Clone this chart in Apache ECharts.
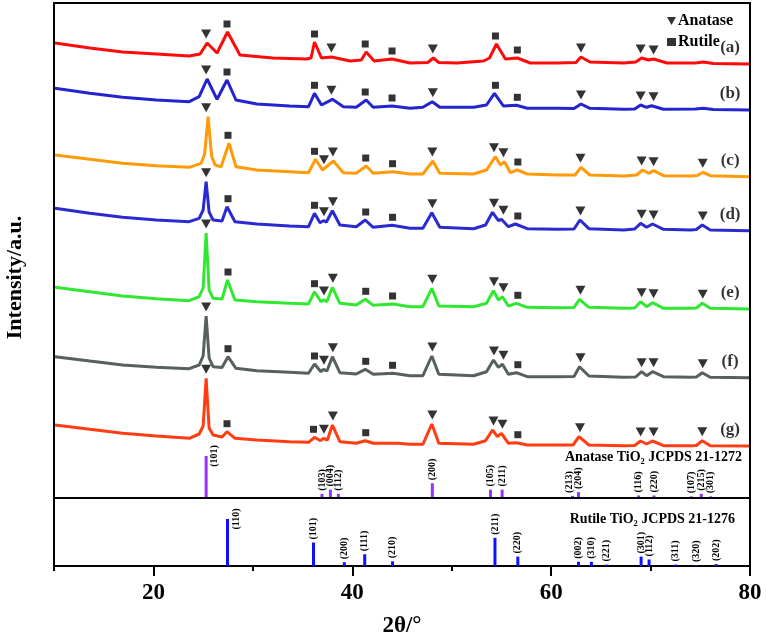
<!DOCTYPE html>
<html><head><meta charset="utf-8">
<script src="https://cdn.jsdelivr.net/npm/echarts@6/dist/echarts.min.js"></script>
<style>html,body{margin:0;padding:0;background:#fff}#c{width:767px;height:639px}</style>
</head><body><div id="c"></div>
<script>
// ---- XRD patterns (2θ in degrees, stacked intensity in a.u.) ----
const curveA = [[10.1,523],[13.6,518],[16.9,514],[20.3,512],[23.6,510],[24.7,512],[25.4,523],[26.4,513],[27.45,534],[28.7,511],[32.0,508],[35.4,507],[35.85,508],[36.2,524],[36.9,508],[37.9,509],[39.8,505],[40.9,506],[41.4,514],[42.2,505],[44.0,507],[45.8,503],[47.6,503.5],[48.15,508],[48.7,503.5],[50.5,503],[53.2,505],[53.8,508],[54.5,522],[55.4,507],[56.6,508],[57.9,503],[60.6,503],[62.5,503.5],[63.0,509],[63.9,504],[67.3,503],[68.5,504],[69.1,508],[69.8,506],[70.3,507],[71.65,503],[74.5,503],[75.3,504],[76.3,502.5],[79.9,502]];
const curveB = [[10.1,477.7],[13.6,472.7],[16.9,468.7],[20.3,466],[23.6,464.3],[24.6,469.3],[25.4,487],[26.4,466.7],[27.4,486],[28.3,466],[30.4,462],[33.7,460],[35.6,459.3],[36.2,472.7],[36.9,461],[38.0,466.7],[39.1,459.3],[40.4,458.7],[41.4,466],[42.1,458.7],[44.0,460],[45.8,457.7],[47.1,458.7],[48.05,464.3],[48.8,458.7],[52.2,458.7],[53.5,461],[54.3,472.7],[55.2,460],[56.5,460.7],[57.6,457.7],[60.6,457.7],[62.3,457.5],[63.0,462],[63.9,457.7],[67.3,456.7],[68.4,457],[69.0,461],[69.6,458.7],[70.1,460.3],[71.3,456.7],[74.5,457],[75.3,457.7],[76.3,456.5],[79.9,456]];
const curveC = [[10.1,411],[13.6,406.7],[16.9,402.7],[20.3,400.3],[23.6,398.7],[24.8,402.7],[25.15,412],[25.5,449.3],[25.85,410],[26.2,401],[26.8,399.3],[27.6,422.7],[28.3,399.3],[30.4,396],[33.7,394.3],[35.6,393.3],[36.3,406.7],[37.0,396],[38.1,405],[39.1,393.3],[40.4,392.7],[41.4,400],[42.1,392.7],[44.1,394.3],[45.8,392],[47.1,392],[48.1,405],[48.8,392.7],[52.2,392],[53.5,396],[54.4,409.3],[54.9,401],[55.3,404.3],[55.9,393.3],[56.6,396],[57.6,392],[60.6,391],[62.4,391],[63.0,398.7],[63.9,391],[67.3,390],[68.6,391],[69.2,396],[69.8,392.7],[70.3,395.3],[71.3,390.3],[74.0,390],[74.7,390.5],[75.3,393.7],[76.0,390.3],[79.9,389.3]];
const curveD = [[10.1,357.7],[13.6,352.7],[16.9,348.7],[20.3,346],[23.6,344.3],[24.6,347.7],[25.0,356],[25.3,384.3],[25.6,354],[26.0,346],[26.9,345],[27.4,359.3],[28.2,344.3],[30.4,342],[33.7,340],[35.6,339.3],[36.2,352.7],[36.75,343.3],[37.1,345.3],[37.4,344],[38.0,355.3],[38.75,341],[40.4,339.3],[41.3,346],[42.1,338.7],[44.0,340.7],[45.8,337.7],[47.1,337.7],[48.0,353.3],[48.8,338.7],[52.2,337.3],[53.4,341],[54.1,353.7],[54.7,345.3],[55.0,346.7],[55.7,339.3],[56.4,342],[57.6,337.3],[60.6,336.7],[62.3,337],[62.9,346],[63.8,337.3],[67.3,336],[68.4,337],[69.0,342.7],[69.6,338.7],[70.2,342],[71.3,336.7],[74.0,336],[74.6,336.5],[75.2,341],[76.0,336],[79.9,335.3]];
const curveE = [[10.1,278.7],[13.6,274.3],[16.9,270],[20.3,267.3],[23.6,265.3],[24.6,269.3],[25.0,278],[25.3,333],[25.6,276],[26.0,267.7],[26.9,267],[27.45,286],[28.2,266],[30.4,264.3],[33.7,262.7],[35.6,262],[36.2,274.3],[36.85,264.3],[37.1,266],[37.45,264.5],[38.0,278.7],[38.75,262.7],[40.4,261],[41.3,266.7],[42.1,260.7],[44.1,262],[45.8,259.3],[47.1,259.3],[48.0,277.7],[48.7,260],[52.2,259.3],[53.5,262.7],[54.2,275.3],[54.7,266],[55.1,269.3],[55.7,260],[56.5,262.7],[57.6,258.7],[60.6,258.3],[62.3,258.5],[62.85,266.7],[63.8,258.7],[67.3,257.7],[68.4,258],[69.0,264.3],[69.6,259.3],[70.2,263.3],[71.3,257.7],[74.0,257.7],[74.6,258],[75.2,262.7],[76.0,257.7],[79.9,257]];
const curveF = [[10.1,209.3],[13.6,205],[16.9,201],[20.3,198.7],[23.6,197.3],[24.6,201],[25.0,210],[25.3,250],[25.6,208],[26.0,199.3],[26.9,198.5],[27.5,209.3],[28.3,197.7],[30.4,195.3],[33.7,193.7],[35.6,192.7],[36.2,202],[36.85,194.3],[37.1,196.7],[37.45,195],[38.0,209.3],[38.75,193.3],[40.4,192],[41.3,196.7],[42.1,191.7],[44.1,192.7],[45.8,190.3],[47.1,190.3],[48.0,210],[48.7,191.7],[52.2,190.3],[53.5,194.3],[54.2,206],[54.7,198.7],[55.1,201.7],[55.7,191.7],[56.5,193.3],[57.6,189.3],[60.6,189.3],[62.3,189.5],[62.85,199.3],[63.8,190],[67.3,188.7],[68.5,189],[69.1,194.3],[69.6,190.3],[70.2,194.3],[71.3,189.3],[74.0,188.7],[74.6,189],[75.2,193.3],[76.0,188.7],[79.9,188.3]];
const curveG = [[10.1,141],[13.6,136.7],[16.9,132.7],[20.3,130],[23.6,127.7],[24.6,132],[25.0,140],[25.3,187.7],[25.6,138],[26.0,131],[26.9,129],[27.4,134.3],[28.2,127.7],[30.4,126],[33.7,124.3],[35.6,123.7],[36.2,128.7],[36.8,125.3],[37.1,127.7],[37.5,126],[38.0,141],[38.75,124.3],[40.4,122.7],[41.3,125.3],[42.1,122.7],[44.6,122.7],[45.8,121.7],[47.1,121.7],[48.0,142],[48.7,122.7],[52.2,121.7],[53.4,125.3],[54.1,136],[54.6,129.3],[55.0,132.7],[55.7,122.7],[56.5,123.3],[57.6,121],[60.6,121],[62.2,121],[62.8,129.3],[63.8,121],[67.3,120.3],[68.4,120.5],[69.0,125],[69.6,122],[70.2,125],[71.3,120.3],[74.0,120.3],[74.6,120.5],[75.2,125.3],[76.0,120.3],[79.9,120]];
const curveNames = ['(a)','(b)','(c)','(d)','(e)','(f)','(g)'];

// phase markers (2θ positions) per curve
const anataseMarksAB = [25.3, 37.9, 48.1, 63.0, 69.0, 70.3];
const rutileMarksAB  = [27.4, 36.2, 41.3, 44.0, 54.4, 56.6];
const anataseMarksCF = [25.3, 37.15, 38.05, 48.05, 54.25, 55.2, 62.95, 69.1, 70.3, 75.25];
const rutileMarksCF  = [27.5, 36.2, 41.35, 44.05, 56.65];
const anataseMarksG  = [25.3, 37.15, 38.05, 48.05, 54.2, 55.1, 62.9, 69.0, 70.3, 75.2];
const rutileMarksG   = [27.4, 36.1, 41.35, 56.65];

// reference cards
const anataseRefPos = [25.3, 36.95, 37.8, 38.6, 48.05, 53.9, 55.07, 62.15, 62.75, 68.8, 70.35, 74.1, 75.1, 76.05];
const anataseRefInt = [100, 10, 20, 10, 35, 20, 20, 5, 14, 6, 6, 4, 10, 4];
const anataseRefHkl = ['(101)','(103)','(004)','(112)','(200)','(105)','(211)','(213)','(204)','(116)','(220)','(107)','(215)','(301)'];
const rutileRefPos = [27.45, 36.1, 39.2, 41.25, 44.05, 54.35, 56.65, 62.75, 64.05, 65.6, 69.05, 69.85, 72.5, 74.6, 76.6];
const rutileRefInt = [100, 50, 8, 25, 10, 60, 20, 9, 9, 3, 20, 14, 3, 2, 4];
const rutileRefHkl = ['(110)','(101)','(200)','(111)','(210)','(211)','(220)','(002)','(310)','(221)','(301)','(112)','(311)','(320)','(202)'];
const xTickLabels = [20, 40, 60, 80];

// ---- styling / layout ----
const curves = [curveA, curveB, curveC, curveD, curveE, curveF, curveG];
const curveColors = ['#ff0a0a', '#2323cf', '#ff9a0a', '#2a2ad0', '#30e830', '#56605e', '#ff3c12'];
const anataseBase = 68, anataseScale = 0.42, rutileBase = 0, rutileScale = 0.47;
const SERIF = '"Liberation Serif", "Times New Roman", serif';
const labelDx = {'(213)': -3.5};

function valueAt(c, x) {
  for (let i = 0; i < c.length - 1; i++) {
    if (x >= c[i][0] && x <= c[i+1][0]) {
      const t = (x - c[i][0]) / (c[i+1][0] - c[i][0]);
      return c[i][1] + t * (c[i+1][1] - c[i][1]);
    }
  }
  return c[c.length-1][1];
}
function peakTop(c, x) {
  let m = valueAt(c, x);
  c.forEach(p => { if (Math.abs(p[0] - x) <= 0.3 && p[1] > m) m = p[1]; });
  return m;
}
const anaSets = [anataseMarksAB, anataseMarksAB, anataseMarksCF, anataseMarksCF, anataseMarksCF, anataseMarksCF, anataseMarksG];
const rutSets = [rutileMarksAB, rutileMarksAB, rutileMarksCF, rutileMarksCF, rutileMarksCF, rutileMarksCF, rutileMarksG];
const anaPts = [], rutPts = [];
curves.forEach((c, i) => {
  anaSets[i].forEach(x => anaPts.push([x, peakTop(c, x) + 9]));
  rutSets[i].forEach(x => rutPts.push([x, peakTop(c, x) + 8]));
});

function refSeries(name, pos, inten, hkl, base, scale, color) {
  return {
    type: 'custom', name, silent: true, clip: false, z: 3,
    data: pos.map((p, i) => [p, base + inten[i] * scale]),
    encode: {x: 0, y: 1},
    renderItem(params, api) {
      const x = api.value(0);
      const p0 = api.coord([x, base]);
      const p1 = api.coord([x, api.value(1)]);
      const idx = params.dataIndex;
      const big = inten[idx] >= 100;
      const lab = hkl[idx];
      return {type: 'group', children: [
        {type: 'line', shape: {x1: p0[0], y1: p0[1], x2: p1[0], y2: p1[1]}, style: {stroke: color, lineWidth: 3}},
        {type: 'text', x: big ? p1[0] + 8.5 : p1[0] + (labelDx[lab] || 0), y: big ? p1[1] : p1[1] - 3, rotation: Math.PI / 2,
          style: {text: lab, textAlign: big ? 'center' : 'left', textVerticalAlign: 'middle', fontSize: 10, fontWeight: 'bold', fontFamily: SERIF, fill: '#000'}}
      ]};
    }
  };
}

const chart = echarts.init(document.getElementById('c'), null, {renderer: 'canvas'});
const series = [];
curves.forEach((c, i) => series.push({
  type: 'line', name: curveNames[i], data: c, showSymbol: false, symbol: 'none', silent: true,
  lineStyle: {color: curveColors[i], width: 3}, z: 2
}));
const anaRef = refSeries('Anatase ref', anataseRefPos, anataseRefInt, anataseRefHkl, anataseBase, anataseScale, '#9b30ff');
anaRef.markLine = {silent: true, symbol: 'none', label: {show: false}, lineStyle: {color: '#000', width: 2, type: 'solid'}, data: [{yAxis: anataseBase}]};
series.push(anaRef);
series.push(refSeries('Rutile ref', rutileRefPos, rutileRefInt, rutileRefHkl, rutileBase, rutileScale, '#1010ff'));
series.push({type: 'scatter', name: 'Anatase', data: anaPts, symbol: 'path://M0,0L10,0L5,9Z', symbolSize: [10, 9], itemStyle: {color: '#000'}, z: 5, silent: true});
series.push({type: 'scatter', name: 'Rutile', data: rutPts, symbol: 'rect', symbolSize: 7, itemStyle: {color: '#000'}, z: 5, silent: true});
series.push({type: 'scatter', name: 'labels', symbolSize: 0, silent: true, z: 6,
  data: curves.map((c, i) => ({name: curveNames[i], value: [78.0, c[c.length-1][1] + 16]})),
  label: {show: true, position: 'inside', formatter: '{b}', color: '#000', fontSize: 17, fontWeight: 'bold', fontFamily: SERIF}});

chart.setOption({
  animation: false,
  backgroundColor: '#fff',
  grid: {left: 54, right: 17, top: 3, bottom: 73, show: true, borderColor: '#000', borderWidth: 2, containLabel: false, outerBoundsMode: 'none'},
  legend: {
    data: [{name: 'Anatase', icon: 'path://M0,0L10,0L5,9Z'}, {name: 'Rutile', icon: 'rect'}],
    orient: 'vertical', left: 662, top: 8, itemWidth: 9, itemHeight: 8, itemGap: 5,
    textStyle: {fontSize: 16, fontWeight: 'bold', fontFamily: SERIF, color: '#000', padding: [0, 0, 0, -3]},
    selectedMode: false
  },
  xAxis: [{
    type: 'value', min: 10, max: 80, interval: 10,
    name: '2θ/°', nameLocation: 'middle', nameGap: 49,
    nameTextStyle: {fontSize: 23, fontWeight: 'bold', fontFamily: SERIF, color: '#000'},
    axisLine: {show: true, lineStyle: {color: '#000', width: 2}},
    axisTick: {show: true, length: 5, lineStyle: {color: '#000', width: 2}},
    axisLabel: {show: true, customValues: xTickLabels, margin: 16, fontSize: 23, fontWeight: 'bold', fontFamily: SERIF, color: '#000'},
    splitLine: {show: false}
  }, {
    type: 'value', min: 10, max: 80, interval: 10, position: 'bottom',
    axisLine: {show: false},
    axisTick: {show: true, customValues: xTickLabels, length: 10, lineStyle: {color: '#000', width: 2}},
    axisLabel: {show: false}, splitLine: {show: false}
  }],
  yAxis: {
    type: 'value', min: 0, max: 563,
    name: 'Intensity/a.u.', nameLocation: 'middle', nameRotate: 90, nameGap: 28,
    nameTextStyle: {fontSize: 22, fontWeight: 'bold', fontFamily: SERIF, color: '#000', padding: [0, 0, 0, 14]},
    axisLine: {show: false}, axisTick: {show: false}, axisLabel: {show: false}, splitLine: {show: false}
  },
  graphic: [
    {type: 'text', x: 742, y: 457, z: 10, style: {text: 'Anatase TiO₂ JCPDS 21-1272', textAlign: 'right', textVerticalAlign: 'middle', fontSize: 14, fontWeight: 'bold', fontFamily: SERIF, fill: '#000'}},
    {type: 'text', x: 735, y: 519, z: 10, style: {text: 'Rutile TiO₂ JCPDS 21-1276', textAlign: 'right', textVerticalAlign: 'middle', fontSize: 14, fontWeight: 'bold', fontFamily: SERIF, fill: '#000'}}
  ],
  series
});
</script>
</body></html>
